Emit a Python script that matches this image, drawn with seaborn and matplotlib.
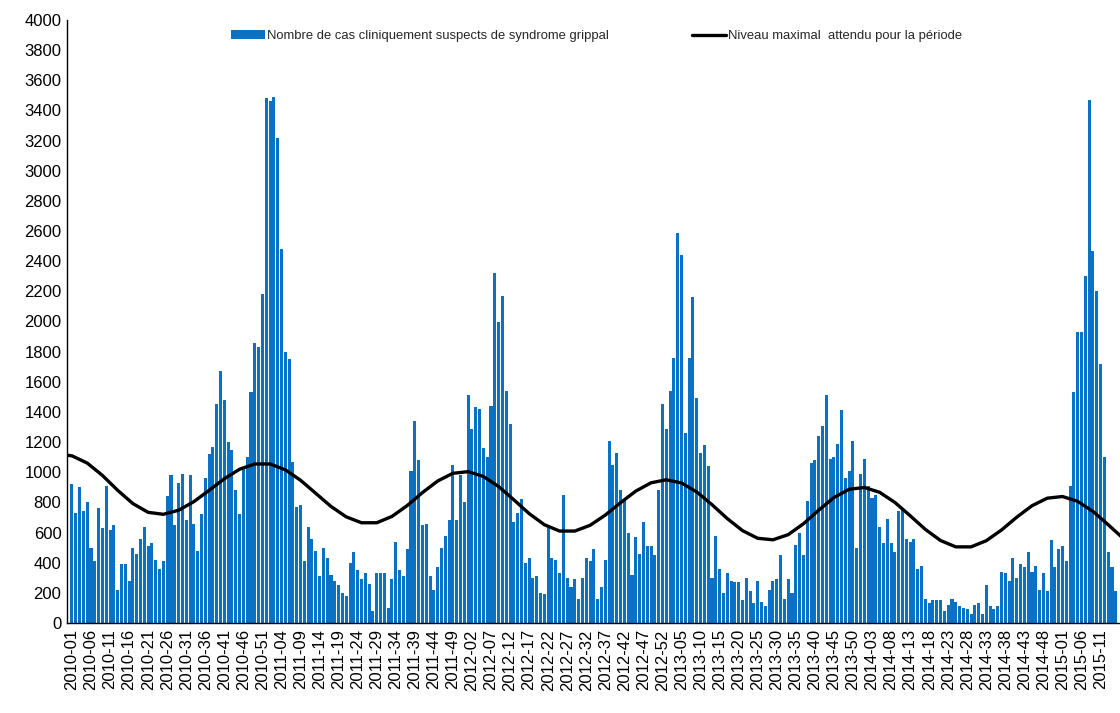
import matplotlib
matplotlib.use("Agg")
import matplotlib.pyplot as plt
import seaborn as sns
import pandas as pd
from matplotlib.patches import Patch
from matplotlib.lines import Line2D

# ---------------- data ----------------
years = [2010, 2011, 2012, 2013, 2014, 2015]
weeks_in_chart = [52, 52, 52, 52, 52, 15]

cases_2010 = [920, 730, 900, 740, 800, 500, 410, 760, 630, 910, 620, 650, 220, 390, 390, 280,
              500, 460, 560, 640, 510, 530, 420, 360, 410, 840, 980, 650, 930, 990, 680, 980,
              660, 480, 720, 960, 1120, 1170, 1450, 1670, 1480, 1200, 1150, 880, 720, 1020,
              1100, 1530, 1860, 1830, 2180, 3480]
cases_2011 = [3460, 3490, 3220, 2480, 1800, 1750, 1070, 770, 780, 410, 640, 560, 480, 310, 500,
              430, 320, 280, 250, 200, 180, 400, 470, 350, 290, 330, 260, 80, 330, 330, 330, 100,
              290, 540, 350, 310, 490, 1010, 1340, 1080, 650, 660, 310, 220, 370, 500, 580, 680,
              1050, 680, 980, 800]
cases_2012 = [1510, 1290, 1430, 1420, 1160, 1100, 1440, 2320, 2000, 2170, 1540, 1320, 670, 730,
              820, 400, 430, 300, 310, 200, 190, 640, 430, 420, 330, 850, 300, 240, 290, 160, 300,
              430, 410, 490, 160, 240, 420, 1210, 1050, 1130, 880, 820, 600, 320, 570, 460, 670,
              510, 510, 450, 880, 1450]
cases_2013 = [1290, 1540, 1760, 2590, 2440, 1260, 1760, 2160, 1490, 1130, 1180, 1040, 300, 580,
              360, 200, 330, 280, 270, 270, 150, 300, 210, 130, 280, 140, 110, 220, 280, 290, 450,
              160, 290, 200, 520, 600, 450, 810, 1060, 1080, 1240, 1310, 1510, 1090, 1100, 1190,
              1410, 960, 1010, 1210, 500, 990]
cases_2014 = [1090, 910, 830, 850, 640, 530, 690, 530, 470, 740, 760, 560, 540, 560, 360, 380,
              160, 130, 150, 150, 150, 80, 120, 160, 140, 110, 100, 90, 60, 120, 130, 60, 250, 110,
              90, 110, 340, 330, 280, 430, 300, 390, 370, 470, 340, 380, 220, 330, 210, 550, 370,
              490]
cases_2015 = [510, 410, 910, 1530, 1930, 1930, 2300, 3470, 2470, 2200, 1720, 1100, 470, 370, 210]

tick_labels = ["2010-01", "2010-06", "2010-11", "2010-16", "2010-21", "2010-26", "2010-31",
               "2010-36", "2010-41", "2010-46", "2010-51", "2011-04", "2011-09", "2011-14",
               "2011-19", "2011-24", "2011-29", "2011-34", "2011-39", "2011-44", "2011-49",
               "2012-02", "2012-07", "2012-12", "2012-17", "2012-22", "2012-27", "2012-32",
               "2012-37", "2012-42", "2012-47", "2012-52", "2013-05", "2013-10", "2013-15",
               "2013-20", "2013-25", "2013-30", "2013-35", "2013-40", "2013-45", "2013-50",
               "2014-03", "2014-08", "2014-13", "2014-18", "2014-23", "2014-28", "2014-33",
               "2014-38", "2014-43", "2014-48", "2015-01", "2015-06", "2015-11"]

# expected maximum level, read every 4 weeks (week index from 2010-01)
threshold_week = [-2] + list(range(0, 277, 4))
threshold_values = [1115, 1109, 1061, 979, 880, 792, 734, 721, 748, 805, 880, 957, 1020, 1055,
                    1055, 1016, 947, 860, 773, 704, 665, 665, 707, 779, 865, 942, 993, 1004, 972,
                    905, 817, 726, 652, 610, 610, 648, 716, 798, 875, 930, 950, 929, 869, 785, 693,
                    613, 562, 552, 586, 658, 748, 832, 887, 899, 867, 800, 712, 621, 547, 505, 505,
                    546, 617, 702, 778, 828, 839, 807, 740, 652, 560]

label_bars = "Nombre de cas cliniquement suspects de syndrome grippal"
label_line = "Niveau maximal  attendu pour la période"

# ---------------- build frame ----------------
cases = cases_2010 + cases_2011 + cases_2012 + cases_2013 + cases_2014 + cases_2015
week_codes = [f"{y}-{w:02d}" for y, n in zip(years, weeks_in_chart) for w in range(1, n + 1)]
df = pd.DataFrame({"semaine": week_codes, "cas": cases})
thr = pd.DataFrame({"pos": threshold_week, "niveau": threshold_values})

# ---------------- plot ----------------
sns.set_theme(style="white")
plt.rcParams["font.family"] = ["Liberation Sans", "DejaVu Sans"]

BAR_BLUE = "#0a72c4"
W, H = 1120, 713
fig = plt.figure(figsize=(W / 100, H / 100), dpi=100)
ax = fig.add_axes([67 / W, 1 - 623 / H, (W - 67) / W, (623 - 20) / H])

sns.barplot(data=df, x="semaine", y="cas", color=BAR_BLUE, saturation=1, width=0.8,
            linewidth=0, edgecolor="none", ax=ax, order=week_codes)
sns.lineplot(data=thr, x="pos", y="niveau", color="black", linewidth=2.4, ax=ax,
             sort=True)

ax.set_xlim(-1.3, len(week_codes) + 0.1)
ax.set_ylim(0, 4000)
ax.set_yticks(range(0, 4001, 200))
ax.set_yticklabels([str(v) for v in range(0, 4001, 200)], fontsize=12)
ax.set_xticks(range(0, len(week_codes), 5))
ax.set_xticklabels(tick_labels, rotation=90, fontsize=12)
ax.set_xlabel("")
ax.set_ylabel("")

for side in ["top", "right"]:
    ax.spines[side].set_visible(False)
for side in ["left", "bottom"]:
    ax.spines[side].set_color("black")
    ax.spines[side].set_linewidth(1.0)
ax.tick_params(axis="y", which="major", direction="out", length=3, width=0.8,
               color="black", labelcolor="black", pad=1)
ax.tick_params(axis="x", which="major", direction="out", length=3, width=0.8,
               color="black", labelcolor="black", pad=1.5)

handles = [Patch(facecolor=BAR_BLUE, edgecolor="none"),
           Line2D([0], [0], color="black", linewidth=2.4)]
fig.legend(handles, [label_bars, label_line], loc="center left",
           bbox_to_anchor=(231 / W, 1 - 36 / H), ncol=2, frameon=False, fontsize=9.4,
           handlelength=2.6, handleheight=0.7, handletextpad=0.15, columnspacing=6.4,
           borderpad=0, borderaxespad=0)

fig.savefig("out.png", dpi=100, facecolor="white")
